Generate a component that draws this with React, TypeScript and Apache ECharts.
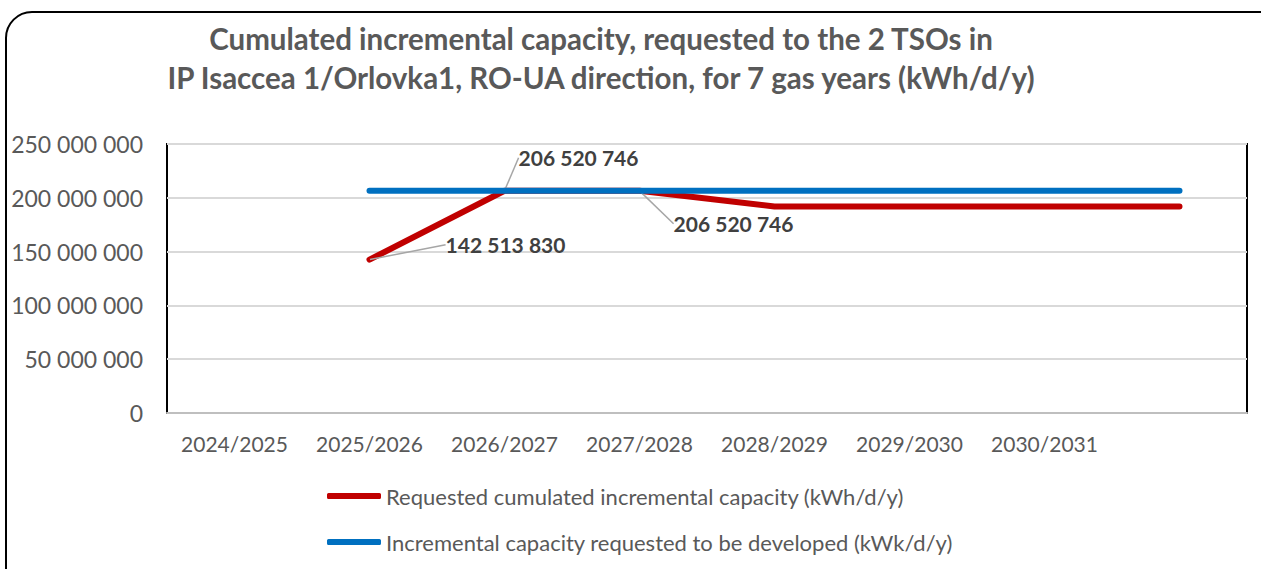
import React, { useEffect, useRef } from "react";
import * as echarts from "echarts";

const categories = ["2024/2025", "2025/2026", "2026/2027", "2027/2028", "2028/2029", "2029/2030", "2030/2031", ""];
const requestedCumulated = [null, 142513830, 206520746, 206520746, 192000000, 192000000, 192000000, 192000000];
const toBeDeveloped = [null, 206520746, 206520746, 206520746, 206520746, 206520746, 206520746, 206520746];
const labeledIndices = [1, 2, 3];
const seriesNames = [
  "Requested cumulated incremental capacity (kWh/d/y)",
  "Incremental capacity requested to be developed (kWk/d/y)",
];
const titleText = "Cumulated incremental capacity, requested to the 2 TSOs in\nIP Isaccea 1/Orlovka1, RO-UA direction, for 7 gas years (kWh/d/y)";

const FONT = "Lato, 'Noto Sans', sans-serif";
const fmt = (v: number) => String(Math.round(v)).replace(/\B(?=(\d{3})+(?!\d))/g, " ");

// label offsets (dx, dy) relative to default top position
const labelOffsets: Record<number, [number, number]> = {
  1: [136, 1],
  2: [74, -17],
  3: [94, 49],
};

export default function App() {
  const ref = useRef<HTMLDivElement>(null);
  useEffect(() => {
    document.body.style.margin = "0";
    const chart = echarts.init(ref.current!, null, { renderer: "svg" });
    const redData = requestedCumulated.map((v, i) =>
      labeledIndices.includes(i) ? { value: v, label: { show: true } } : { value: v }
    );
    chart.setOption({
      animation: false,
      backgroundColor: "#fff",
      title: {
        text: titleText,
        left: 596,
        top: 14,
        textAlign: "center",
        textStyle: { fontFamily: FONT, fontSize: 29.5, fontWeight: "bold", color: "#595959", lineHeight: 39 },
      },
      graphic: [
        {
          type: "rect",
          shape: { x: 6, y: 12, width: 1300, height: 620, r: 26 },
          style: { fill: "none", stroke: "#000", lineWidth: 2 },
          silent: true,
          z: -1,
        },
      ],
      grid: {
        left: 167,
        top: 144,
        right: 14,
        bottom: 156,
        show: true,
        borderColor: "#000",
        borderWidth: 2,
      },
      legend: {
        orient: "vertical",
        left: 322,
        top: 480,
        itemWidth: 54,
        itemHeight: 6,
        itemGap: 24,
        icon: "roundRect",
        textStyle: { fontFamily: FONT, fontSize: 22, color: "#595959" },
        data: seriesNames,
      },
      xAxis: {
        type: "category",
        data: categories,
        boundaryGap: true,
        axisLine: { show: true, lineStyle: { color: "#bfbfbf", width: 2 } },
        axisTick: { show: false },
        axisLabel: { fontFamily: FONT, fontSize: 21, color: "#595959", margin: 20, interval: 0 },
      },
      yAxis: {
        type: "value",
        min: 0,
        max: 250000000,
        interval: 50000000,
        axisLine: { show: false },
        axisTick: { show: false },
        splitLine: { lineStyle: { color: "#d9d9d9", width: 2 } },
        axisLabel: { fontFamily: FONT, fontSize: 23, color: "#595959", margin: 24, formatter: (v: number) => fmt(v) },
      },
      series: [
        {
          name: seriesNames[0],
          type: "line",
          data: redData,
          showSymbol: true,
          symbol: "circle",
          symbolSize: 1,
          color: "#C00000",
          lineStyle: { color: "#C00000", width: 6, cap: "round", join: "round" },
          itemStyle: { color: "#C00000" },
          label: {
            show: false,
            position: "top",
            fontFamily: FONT,
            fontSize: 21,
            fontWeight: "bold",
            color: "#404040",
            formatter: (p: any) => fmt(p.value),
          },
          labelLine: { show: true, lineStyle: { color: "#a6a6a6", width: 1.5 } },
          labelLayout: (p: any) => {
            const o = labelOffsets[p.dataIndex];
            if (!o) return {};
            const r = p.rect;
            const lr = p.labelRect;
            const px = r.x + r.width / 2;
            const py = r.y + r.height / 2;
            const lx = lr.x + o[0];
            const ly = lr.y + o[1];
            const cx = lx + lr.width / 2;
            const cy = ly + lr.height / 2;
            let pts: number[][];
            if (p.dataIndex === 1) {
              pts = [[px, py], [lx - 20, cy - 2], [lx - 8, cy - 2]];
            } else if (p.dataIndex === 2) {
              pts = [[px, py], [cx, ly + lr.height + 9], [cx, ly + lr.height + 9]];
            } else {
              pts = [[px, py], [lx - 23, cy], [lx - 5, cy]];
            }
            return { dx: o[0], dy: o[1], labelLinePoints: pts };
          },
          z: 2,
        },
        {
          name: seriesNames[1],
          type: "line",
          data: toBeDeveloped,
          showSymbol: false,
          color: "#0070C0",
          lineStyle: { color: "#0070C0", width: 6, cap: "round", join: "round" },
          itemStyle: { color: "#0070C0" },
          z: 3,
        },
      ],
    });
    return () => chart.dispose();
  }, []);
  return <div ref={ref} style={{ width: 1261, height: 569 }} />;
}
